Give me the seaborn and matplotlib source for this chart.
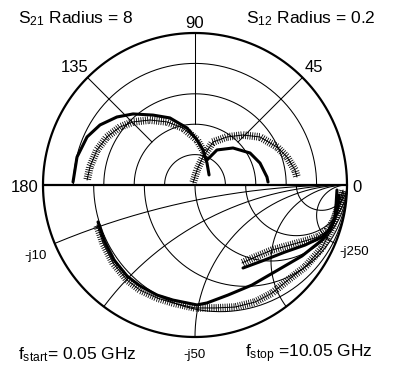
"""
S-parameter chart: polar upper half (S21, S12) + Smith chart lower half (S11, S22)
"""

import numpy as np
import pandas as pd
import matplotlib
matplotlib.use('Agg')
import matplotlib.pyplot as plt
import matplotlib.patheffects as pe
import seaborn as sns

# S21 (polar, full scale = 8): real / imag
s21_model_re = [-6.42, -6.21, -5.68, -5.00, -4.11, -3.26, -2.21, -1.32, -0.42, 0.11, 0.42, 0.63, 0.74]
s21_model_im = [0.16, 1.47, 2.53, 3.16, 3.58, 3.74, 3.68, 3.53, 3.00, 2.37, 1.84, 1.16, 0.53]
s21_meas_re = [-5.68, -5.53, -5.16, -4.63, -3.95, -3.26, -2.37, -1.47, -0.63, 0.11, 0.47]
s21_meas_im = [0.26, 0.95, 1.84, 2.53, 3.05, 3.32, 3.42, 3.32, 3.00, 2.37, 1.74]

# S12 (polar, full scale = 0.2)
s12_model_re = [0.0158, 0.0289, 0.0500, 0.0724, 0.0855, 0.0947, 0.0961]
s12_model_im = [0.0329, 0.0461, 0.0487, 0.0421, 0.0289, 0.0105, 0.0039]
s12_meas_re = [-0.0026, 0.0026, 0.0105, 0.0237, 0.0421, 0.0632, 0.0855, 0.1079, 0.1211, 0.1316, 0.1342]
s12_meas_im = [0.0026, 0.0197, 0.0368, 0.0566, 0.0632, 0.0658, 0.0632, 0.0500, 0.0368, 0.0197, 0.0105]

# S11 (Smith chart, reflection coefficient)
s11_meas_re = [-0.645, -0.605, -0.539, -0.447, -0.362, -0.250, -0.145, 0.0, 0.132, 0.263,
               0.395, 0.507, 0.612, 0.724, 0.836, 0.901, 0.941, 0.974]
s11_meas_im = [-0.263, -0.382, -0.513, -0.625, -0.691, -0.743, -0.776, -0.809, -0.809, -0.803,
               -0.770, -0.711, -0.625, -0.539, -0.414, -0.283, -0.145, -0.033]
s11_model_re = [-0.638, -0.599, -0.533, -0.447, -0.362, -0.250, -0.145, 0.013, 0.079, 0.217,
                0.375, 0.546, 0.704, 0.836, 0.901, 0.934, 0.947]
s11_model_im = [-0.243, -0.362, -0.493, -0.599, -0.664, -0.724, -0.757, -0.789, -0.776, -0.724,
                -0.658, -0.559, -0.467, -0.362, -0.270, -0.178, -0.066]

# S22 (Smith chart)
s22_meas_re = [0.309, 0.395, 0.507, 0.625, 0.724, 0.809, 0.868, 0.914, 0.954, 0.980]
s22_meas_im = [-0.513, -0.474, -0.428, -0.395, -0.368, -0.342, -0.303, -0.230, -0.132, -0.046]
s22_model_re = [0.316, 0.441, 0.592, 0.724, 0.836, 0.895, 0.921, 0.928, 0.934]
s22_model_im = [-0.546, -0.500, -0.441, -0.395, -0.342, -0.283, -0.217, -0.132, -0.033]

polar_rings = [0.2, 0.4, 0.6, 0.8]
polar_spokes = [45, 90, 135]
smith_r = [0.2, 0.5, 1, 2, 5]
smith_x = [-0.2, -0.5, -1, -2, -5]

sns.set_style('white')
plt.rcParams['font.family'] = ['Liberation Sans', 'DejaVu Sans']
plt.rcParams['text.color'] = 'black'
plt.rcParams['mathtext.fontset'] = 'custom'
plt.rcParams['mathtext.rm'] = 'Liberation Sans'
plt.rcParams['mathtext.it'] = 'Liberation Sans'

fig = plt.figure(figsize=(3.99, 3.75), dpi=100)
ax = fig.add_axes([0, 0, 1, 1])
ax.set_xlim(-195 / 152, 204 / 152)
ax.set_ylim(-190 / 152, 185 / 152)
ax.set_aspect('equal')
ax.axis('off')

thin = dict(color='black', lw=0.75)

# 극좌표 격자 (위쪽 절반)
t = np.linspace(0, np.pi, 200)
for rr in polar_rings:
    ax.plot(rr * np.cos(t), rr * np.sin(t), **thin)
for a in polar_spokes:
    a = np.radians(a)
    ax.plot([0.4 * np.cos(a), np.cos(a)], [0.4 * np.sin(a), np.sin(a)], **thin)

# 스미스 차트 격자 (아래쪽 절반)
for r in smith_r:
    c, rad = r / (1 + r), 1 / (1 + r)
    tt = np.linspace(np.pi, 2 * np.pi, 200)
    ax.plot(c + rad * np.cos(tt), rad * np.sin(tt), **thin)
for x in smith_x:
    cy, rad = 1 / x, 1 / abs(x)
    p = (1j * x - 1) / (1j * x + 1)
    a_end = np.arctan2(p.imag - cy, p.real - 1)
    if a_end < np.pi / 2:
        a_end += 2 * np.pi
    tt = np.linspace(np.pi / 2, a_end, 200)
    ax.plot(1 + rad * np.cos(tt), cy + rad * np.sin(tt), **thin)

# 외곽 원 + 수평축
tt = np.linspace(0, 2 * np.pi, 400)
ax.plot(np.cos(tt), np.sin(tt), color='black', lw=1.6)
ax.plot([-1, 1], [0, 0], color='black', lw=1.6)

# 데이터 곡선 (측정값은 + 표시가 촘촘한 띠 모양)
ticks = [pe.TickedStroke(spacing=1.6, angle=90, length=1.6, linewidth=0.6),
         pe.TickedStroke(spacing=1.6, angle=-90, length=1.6, linewidth=0.6),
         pe.Normal()]

def model_line(re, im, scale=1.0):
    df = pd.DataFrame({'x': np.array(re) / scale, 'y': np.array(im) / scale})
    sns.lineplot(data=df, x='x', y='y', sort=False, estimator=None, color='black',
                 lw=2.2, ax=ax)

def meas_line(re, im, scale=1.0):
    df = pd.DataFrame({'x': np.array(re) / scale, 'y': np.array(im) / scale})
    sns.lineplot(data=df, x='x', y='y', sort=False, estimator=None, color='black',
                 lw=0.7, ax=ax, path_effects=ticks)

model_line(s21_model_re, s21_model_im, 8)
meas_line(s21_meas_re, s21_meas_im, 8)
model_line(s12_model_re, s12_model_im, 0.2)
meas_line(s12_meas_re, s12_meas_im, 0.2)
model_line(s11_model_re, s11_model_im)
meas_line(s11_meas_re, s11_meas_im)
model_line(s22_model_re, s22_model_im)
meas_line(s22_meas_re, s22_meas_im)

def px(x, y):
    return (x - 195) / 152, (185 - y) / 152

fs = 12.5
ax.text(*px(18, 23.5), r'S$_{\mathrm{21}}$ Radius = 8', fontsize=fs, ha='left', va='baseline')
ax.text(*px(246, 23.5), r'S$_{\mathrm{12}}$ Radius = 0.2', fontsize=fs, ha='left', va='baseline')
ax.text(*px(195, 28), '90', fontsize=12, ha='center', va='baseline')
ax.text(*px(74.5, 72), '135', fontsize=12, ha='center', va='baseline')
ax.text(*px(314, 72), '45', fontsize=12, ha='center', va='baseline')
ax.text(*px(25, 192), '180', fontsize=12, ha='center', va='baseline')
ax.text(*px(357, 192), '0', fontsize=12, ha='center', va='baseline')
ax.text(*px(36, 259), '-j10', fontsize=9.5, ha='center', va='baseline')
ax.text(*px(354, 255), '-j250', fontsize=9.5, ha='center', va='baseline')
ax.text(*px(194, 358), '-j50', fontsize=9.5, ha='center', va='baseline')
ax.text(*px(18, 359), r'f$_{\mathrm{start}}$= 0.05 GHz', fontsize=fs, ha='left', va='baseline')
ax.text(*px(245, 357), r'f$_{\mathrm{stop}}$ =10.05 GHz', fontsize=fs, ha='left', va='baseline')

plt.savefig('out.png', dpi=100)
plt.close()
